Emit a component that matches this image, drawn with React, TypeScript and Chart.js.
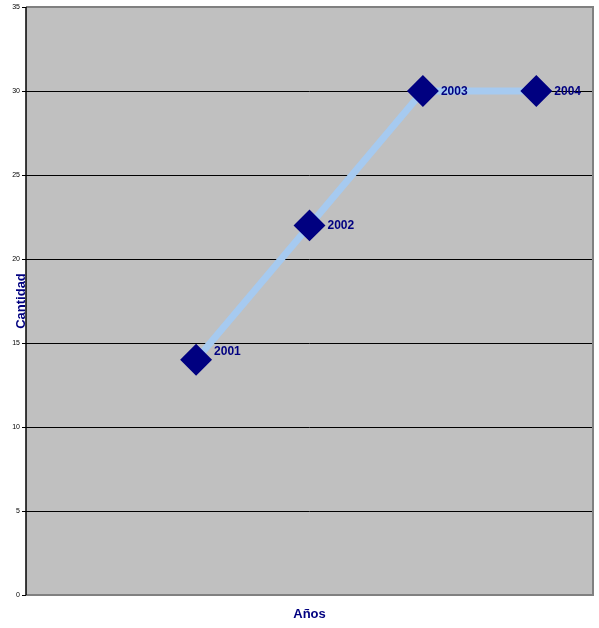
import React, { useEffect, useRef } from "react";
import { Chart, registerables } from "chart.js";

Chart.register(...registerables);

const categories: string[] = ["", "2001", "2002", "2003", "2004"];
const cantidad: (number | null)[] = [null, 14, 22, 30, 30];
const yMin = 0;
const yMax = 35;
const yStep = 5;
const xTitle = "Años";
const yTitle = "Cantidad";

const FONT = "'Liberation Sans', Arial, sans-serif";
const NAVY = "#000080";

const customPlugin = {
  id: "excelLook",
  beforeDraw(chart: any) {
    const { ctx, chartArea: a } = chart;
    ctx.save();
    ctx.fillStyle = "#C0C0C0";
    ctx.fillRect(a.left, a.top, a.right - a.left, a.bottom - a.top);
    ctx.restore();
  },
  beforeDatasetsDraw(chart: any) {
    const { ctx, chartArea: a } = chart;
    ctx.save();
    ctx.strokeStyle = "#808080";
    ctx.lineWidth = 2;
    ctx.beginPath();
    ctx.moveTo(a.left, a.top);
    ctx.lineTo(a.right, a.top);
    ctx.lineTo(a.right, a.bottom);
    ctx.lineTo(a.left, a.bottom);
    ctx.stroke();
    ctx.strokeStyle = "#000";
    ctx.lineWidth = 1.5;
    ctx.beginPath();
    ctx.moveTo(a.left, a.top);
    ctx.lineTo(a.left, a.bottom);
    ctx.stroke();
    ctx.restore();
  },
  afterDatasetsDraw(chart: any) {
    const { ctx } = chart;
    const meta = chart.getDatasetMeta(0);
    ctx.save();
    ctx.fillStyle = NAVY;
    ctx.font = `bold 12px ${FONT}`;
    ctx.textAlign = "left";
    ctx.textBaseline = "middle";
    meta.data.forEach((pt: any, i: number) => {
      const v = cantidad[i];
      if (v === null || v === undefined) return;
      const dy = i === 1 ? -9 : 0;
      ctx.fillText(categories[i], pt.x + 18, pt.y + dy + 0.5);
    });
    ctx.restore();
  },
  afterDraw(chart: any) {
    const { ctx, chartArea: a } = chart;
    ctx.save();
    ctx.fillStyle = NAVY;
    ctx.font = `bold 13px ${FONT}`;
    ctx.textAlign = "center";
    ctx.textBaseline = "middle";
    ctx.fillText(xTitle, (a.left + a.right) / 2, 614);
    ctx.translate(21, (a.top + a.bottom) / 2);
    ctx.rotate(-Math.PI / 2);
    ctx.fillText(yTitle, 0, 0);
    ctx.restore();
  },
};

export default function App() {
  const ref = useRef<HTMLCanvasElement | null>(null);
  useEffect(() => {
    if (!ref.current) return;
    const chart = new Chart(ref.current, {
      type: "line",
      data: {
        labels: categories,
        datasets: [
          {
            label: yTitle,
            data: cantidad,
            borderColor: "#A6CAF0",
            borderWidth: 7,
            backgroundColor: NAVY,
            pointBackgroundColor: NAVY,
            pointBorderColor: NAVY,
            pointStyle: "rectRot",
            pointRadius: 11,
            pointHoverRadius: 11,
            tension: 0,
            clip: false,
          },
        ],
      },
      options: {
        responsive: false,
        animation: false,
        layout: { autoPadding: false, padding: { top: 7, right: 6, left: 0, bottom: 0 } },
        plugins: {
          legend: { display: false },
          tooltip: { enabled: false },
          title: { display: false },
        },
        scales: {
          x: {
            type: "category",
            offset: true,
            ticks: { display: false },
            grid: { display: false },
            border: { display: false },
            afterFit: (s: any) => {
              s.height = 33;
            },
          },
          y: {
            min: yMin,
            max: yMax,
            ticks: {
              stepSize: yStep,
              font: { size: 7, family: FONT },
              color: "#000",
              padding: 2,
            },
            grid: {
              color: "#000",
              lineWidth: 1,
              tickLength: 4,
              tickColor: "#000",
            },
            border: { display: false },
            afterFit: (s: any) => {
              s.width = 26;
            },
          },
        },
      },
      plugins: [customPlugin],
    } as any);
    return () => chart.destroy();
  }, []);
  return (
    <div style={{ position: "fixed", left: 0, top: 0, width: 599, height: 628, background: "#fff" }}>
      <canvas ref={ref} width={599} height={628} />
    </div>
  );
}
